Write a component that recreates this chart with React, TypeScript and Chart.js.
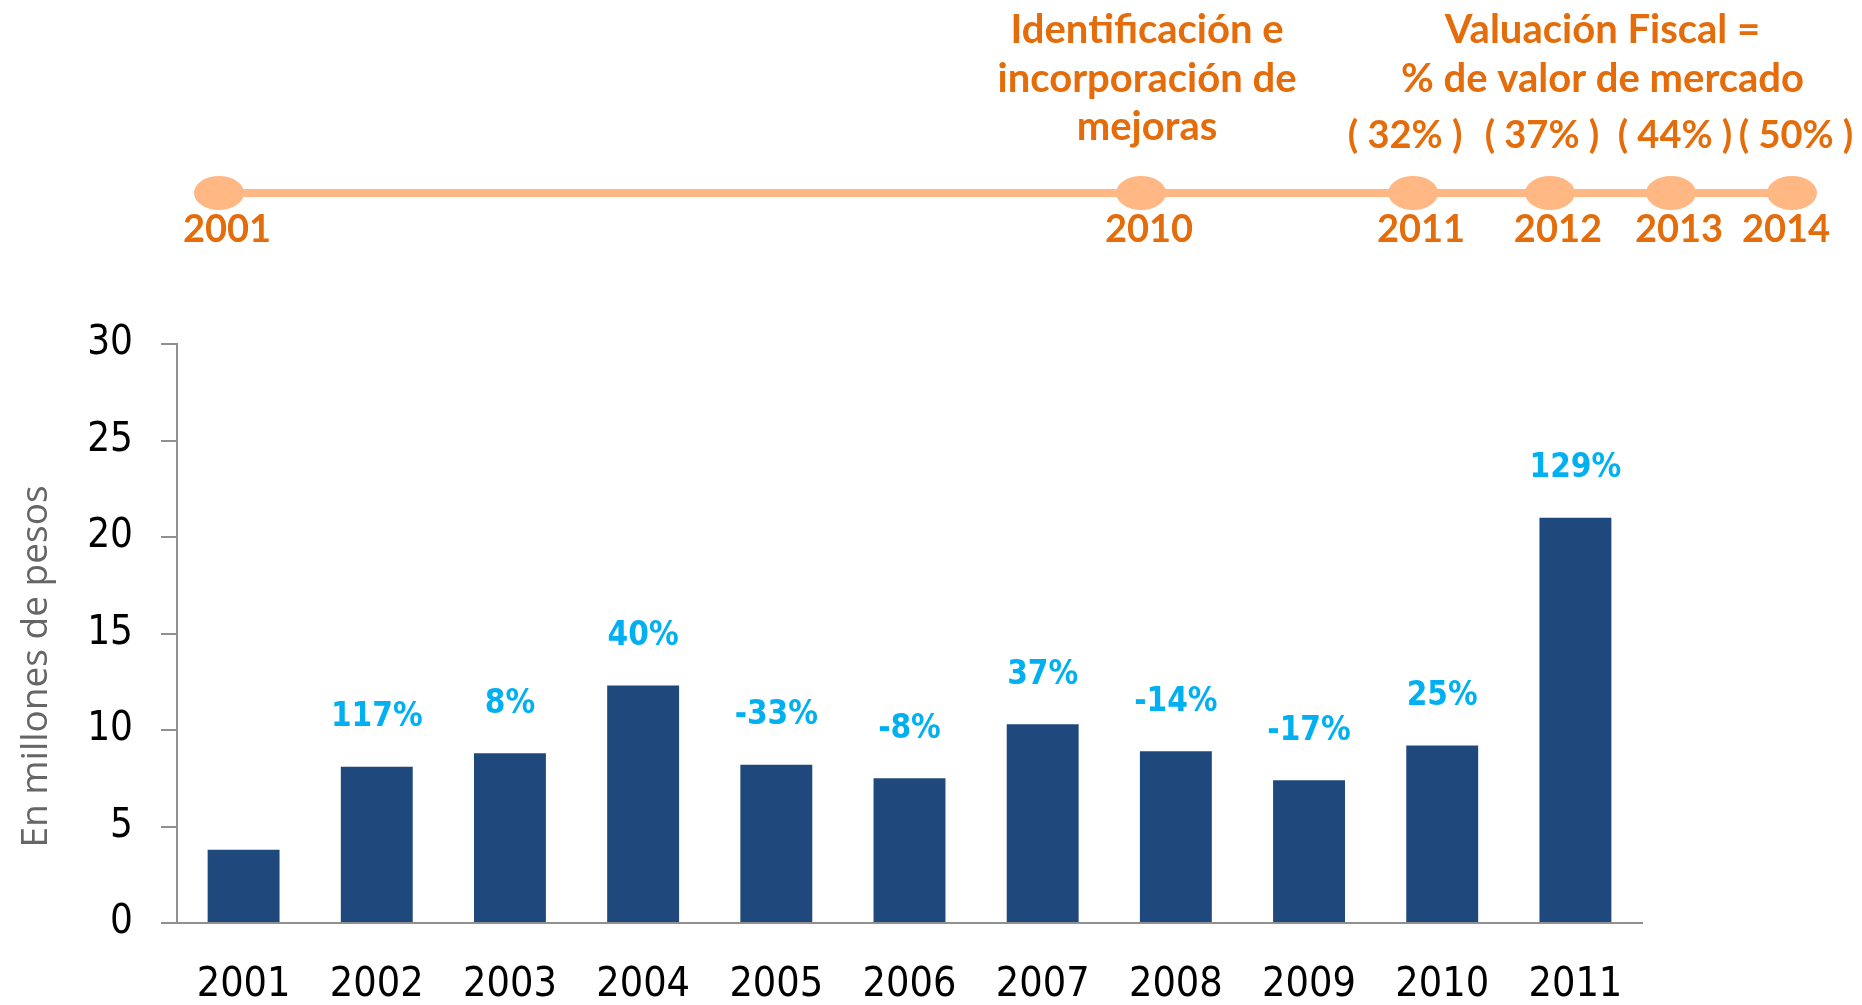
import React, { useEffect, useRef } from "react";
import { Chart, registerables } from "chart.js";

Chart.register(...registerables);

// ---- data ----
const years = ["2001", "2002", "2003", "2004", "2005", "2006", "2007", "2008", "2009", "2010", "2011"];
const values = [3.8, 8.1, 8.8, 12.3, 8.2, 7.5, 10.3, 8.9, 7.4, 9.2, 21.0];
const growthLabels = ["", "117%", "8%", "40%", "-33%", "-8%", "37%", "-14%", "-17%", "25%", "129%"];
const yAxisTitle = "En millones de pesos";

const timelineYears = ["2001", "2010", "2011", "2012", "2013", "2014"];
const timelinePos = [11.76, 61.28, 75.89, 83.24, 89.74, 96.24];
const milestoneTitle = ["Identificación e", "incorporación de", "mejoras"];
const valuationTitle = ["Valuación Fiscal =", "% de valor de mercado"];
const valuationPct = ["( 32% )", "( 37% )", "( 44% )", "( 50% )"];

const W = 1862;
const H = 1005;
const TL_H = 386;
const ORANGE = "#E46C0A";
const PEACH = "#FFB784";
const TICK_FONT = '"DejaVu Sans Condensed", "Noto Sans", sans-serif';
const LATO = 'Lato, "Open Sans", sans-serif';

function makeEllipse(): HTMLCanvasElement {
  const c = document.createElement("canvas");
  c.width = 50;
  c.height = 34;
  const g = c.getContext("2d")!;
  g.fillStyle = PEACH;
  g.beginPath();
  g.ellipse(25, 17, 25, 17, 0, 0, Math.PI * 2);
  g.fill();
  return c;
}

export default function App() {
  const barRef = useRef<HTMLCanvasElement>(null);
  const tlRef = useRef<HTMLCanvasElement>(null);

  useEffect(() => {
    document.body.style.margin = "0";

    const barLabelPlugin = {
      id: "barLabels",
      afterDatasetsDraw(chart: any) {
        const ctx = chart.ctx;
        const meta = chart.getDatasetMeta(0);
        ctx.save();
        ctx.fillStyle = "#00B0F0";
        ctx.font = `bold 33px ${TICK_FONT}`;
        ctx.textAlign = "center";
        ctx.textBaseline = "middle";
        meta.data.forEach((bar: any, i: number) => {
          const t = growthLabels[i];
          if (t) ctx.fillText(t, bar.x, bar.y - 49);
        });
        ctx.restore();
        // y axis title
        const area = chart.chartArea;
        ctx.save();
        ctx.translate(36, (area.top + area.bottom) / 2 + 33);
        ctx.rotate(-Math.PI / 2);
        ctx.fillStyle = "#666666";
        ctx.font = `37px "Open Sans", sans-serif`;
        ctx.textAlign = "center";
        ctx.textBaseline = "middle";
        ctx.fillText(yAxisTitle, 0, 0);
        ctx.restore();
      },
    };

    const bar = new Chart(barRef.current!, {
      type: "bar",
      data: {
        labels: years,
        datasets: [
          {
            data: values,
            backgroundColor: "#1F497D",
            categoryPercentage: 1,
            barPercentage: 0.54,
          },
        ],
      },
      options: {
        animation: false,
        responsive: false,
        maintainAspectRatio: false,
        devicePixelRatio: 1,
        layout: { padding: { top: 344, right: 220, bottom: 0, left: 0 } },
        plugins: { legend: { display: false }, tooltip: { enabled: false } },
        scales: {
          x: {
            grid: { display: false, drawTicks: false },
            border: { display: true, color: "#909090", width: 2 },
            ticks: { color: "#000", font: { family: TICK_FONT, size: 41 }, padding: 38 },
            afterFit: (s: any) => {
              s.height = 82;
            },
          },
          y: {
            min: 0,
            max: 30,
            ticks: { stepSize: 5, color: "#000", font: { family: TICK_FONT, size: 40 }, padding: 28 },
            grid: { drawOnChartArea: false, drawTicks: true, tickLength: 16, color: "#909090", lineWidth: 2 },
            border: { display: true, color: "#909090", width: 2 },
            afterFit: (s: any) => {
              s.width = 177;
            },
          },
        },
      },
      plugins: [barLabelPlugin],
    });

    const tlTextPlugin = {
      id: "tlText",
      afterDatasetsDraw(chart: any) {
        const ctx = chart.ctx;
        const meta = chart.getDatasetMeta(0);
        const pts = meta.data;
        ctx.save();
        ctx.fillStyle = ORANGE;
        ctx.textAlign = "center";
        ctx.textBaseline = "middle";
        ctx.font = `bold 38px ${LATO}`;
        pts.forEach((p: any, i: number) => {
          const dx = i === pts.length - 1 ? -6 : 8;
          ctx.fillText(timelineYears[i], p.x + dx, p.y + 37);
        });
        ctx.textBaseline = "alphabetic";
        ctx.font = `bold 40px ${LATO}`;
        const baselines = [43, 92, 140];
        milestoneTitle.forEach((t, i) => ctx.fillText(t, pts[1].x + 6, baselines[i]));
        const cx = (pts[2].x + pts[5].x) / 2;
        valuationTitle.forEach((t, i) => ctx.fillText(t, cx, baselines[i]));
        ctx.font = `bold 38px ${LATO}`;
        valuationPct.forEach((t, i) => ctx.fillText(t, pts[i + 2].x + (i < 2 ? -8 : 4), 148));
        ctx.restore();
      },
    };

    const tl = new Chart(tlRef.current!, {
      type: "line",
      data: {
        datasets: [
          {
            data: timelinePos.map((x) => ({ x, y: 0 })),
            borderColor: PEACH,
            borderWidth: 8,
            pointStyle: makeEllipse() as any,
            pointRadius: 25,
            clip: false as any,
          },
        ],
      },
      options: {
        animation: false,
        responsive: false,
        maintainAspectRatio: false,
        devicePixelRatio: 1,
        layout: { padding: 0, autoPadding: false },
        plugins: { legend: { display: false }, tooltip: { enabled: false } },
        scales: {
          x: { type: "linear", display: false, min: 0, max: 100 },
          y: { type: "linear", display: false, min: -1, max: 1 },
        },
      },
      plugins: [tlTextPlugin],
    });

    return () => {
      bar.destroy();
      tl.destroy();
    };
  }, []);

  return (
    <div style={{ position: "fixed", left: 0, top: 0, width: W, height: H, background: "#fff" }}>
      <canvas ref={barRef} width={W} height={H} style={{ position: "absolute", left: 0, top: 0, width: W, height: H }} />
      <canvas ref={tlRef} width={W} height={TL_H} style={{ position: "absolute", left: 0, top: 0, width: W, height: TL_H }} />
    </div>
  );
}
